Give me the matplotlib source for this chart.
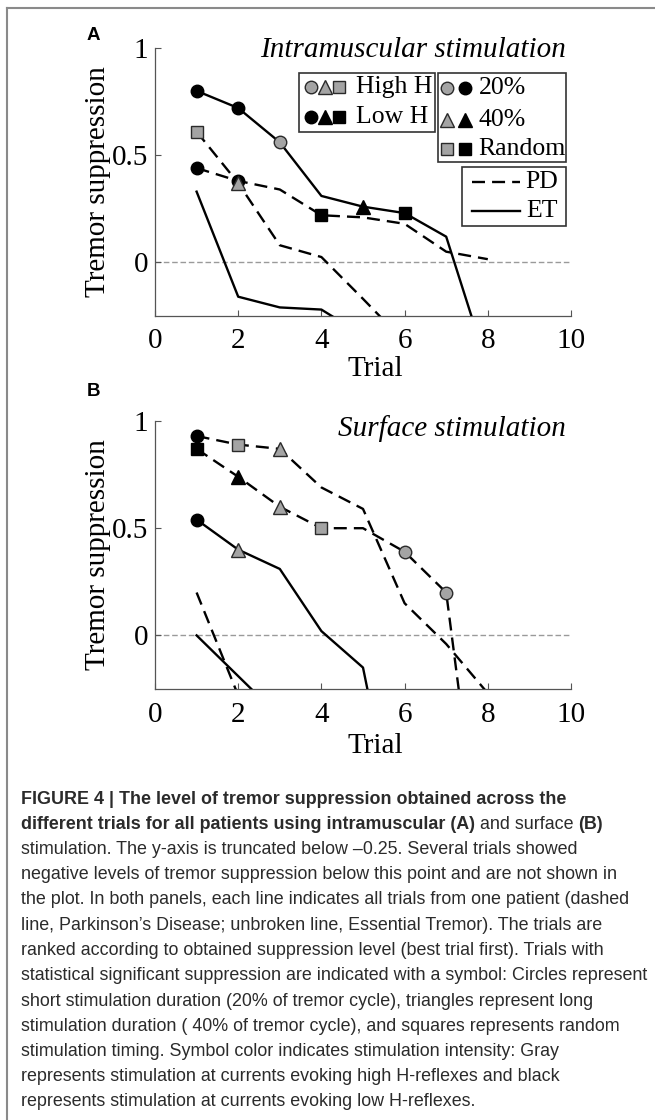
import matplotlib
matplotlib.use('Agg')
import matplotlib.pyplot as plt
from matplotlib.lines import Line2D
from matplotlib.patches import Rectangle
from matplotlib import font_manager

# ---- data ----
# symbol codes: K = black (low H), G = gray (high H); o circle, ^ triangle, s square
a_et1 = [0.80, 0.72, 0.56, 0.31, 0.26, 0.23, 0.12, -0.49]
a_et1_sym = ['Ko', 'Ko', 'Go', '', 'K^', 'Ks', '', '']
a_pd1 = [0.61, 0.37, 0.08, 0.025, -0.17, -0.37]
a_pd1_sym = ['Gs', 'G^', '', '', '', '']
a_pd2 = [0.44, 0.38, 0.34, 0.22, 0.21, 0.18, 0.05, 0.015]
a_pd2_sym = ['Ko', 'Ko', '', 'Ks', '', '', '', '']
a_et2 = [0.33, -0.16, -0.21, -0.22, -0.34]
a_et2_sym = ['', '', '', '', '']

b_pd1 = [0.93, 0.89, 0.87, 0.69, 0.59, 0.15, -0.04, -0.27]
b_pd1_sym = ['Ko', 'Gs', 'G^', '', '', '', '', '']
b_pd2 = [0.87, 0.74, 0.60, 0.50, 0.50, 0.39, 0.20, -1.3]
b_pd2_sym = ['Ks', 'K^', 'G^', 'Gs', '', 'Go', 'Go', '']
b_et1 = [0.54, 0.40, 0.31, 0.02, -0.15, -1.1]
b_et1_sym = ['Ko', 'G^', '', '', '', '']
b_pd3 = [0.20, -0.28]
b_pd3_sym = ['', '']
b_et2 = [0.00, -0.19, -0.38]
b_et2_sym = ['', '', '']

panel_a = [(a_pd2, a_pd2_sym, 'PD'), (a_pd1, a_pd1_sym, 'PD'),
           (a_et2, a_et2_sym, 'ET'), (a_et1, a_et1_sym, 'ET')]
panel_b = [(b_pd3, b_pd3_sym, 'PD'), (b_et2, b_et2_sym, 'ET'),
           (b_et1, b_et1_sym, 'ET'), (b_pd2, b_pd2_sym, 'PD'), (b_pd1, b_pd1_sym, 'PD')]

caption = [
    "stimulation. The y-axis is truncated below \u20130.25. Several trials showed",
    "negative levels of tremor suppression below this point and are not shown in",
    "the plot. In both panels, each line indicates all trials from one patient (dashed",
    "line, Parkinson\u2019s Disease; unbroken line, Essential Tremor). The trials are",
    "ranked according to obtained suppression level (best trial first). Trials with",
    "statistical significant suppression are indicated with a symbol: Circles represent",
    "short stimulation duration (20% of tremor cycle), triangles represent long",
    "stimulation duration ( 40% of tremor cycle), and squares represents random",
    "stimulation timing. Symbol color indicates stimulation intensity: Gray",
    "represents stimulation at currents evoking high H-reflexes and black",
    "represents stimulation at currents evoking low H-reflexes.",
]

GRAY = '#a4a4a4'
EDGE = '#2a2a2a'
SERIF = 'Liberation Serif'
DASH = (5.5, 3)

names = {f.name for f in font_manager.fontManager.ttflist}
cap_font = 'Liberation Sans Narrow' if 'Liberation Sans Narrow' in names else 'Liberation Sans'


def draw_marker(ax, x, y, code, ms=9):
    face = 'k' if code[0] == 'K' else GRAY
    edge = 'k' if code[0] == 'K' else EDGE
    m = code[1]
    size = ms + 1 if m == '^' else ms
    ax.plot(x, y, marker=m, ms=size, mfc=face, mec=edge, mew=1.0,
            ls='none', zorder=5, clip_on=False)


def draw_panel(ax, lines, title, title_y):
    ax.axhline(0, color='#9a9a9a', lw=1.0, ls=(0, (4, 2)), zorder=1)
    for vals, syms, kind in lines:
        trials = list(range(1, len(vals) + 1))
        if kind == 'PD':
            ax.plot(trials, vals, color='k', lw=1.7, dashes=DASH, zorder=3)
        else:
            ax.plot(trials, vals, color='k', lw=1.7, zorder=3)
        for t, v, s in zip(trials, vals, syms):
            if s and v >= -0.25:
                draw_marker(ax, t, v, s)
    ax.set_xlim(0, 10)
    ax.set_ylim(-0.25, 1)
    ax.set_xticks([0, 2, 4, 6, 8, 10])
    ax.set_yticks([0, 0.5, 1])
    ax.set_yticklabels(['0', '0.5', '1'])
    for side in ['top', 'right']:
        ax.spines[side].set_visible(False)
    for side in ['left', 'bottom']:
        ax.spines[side].set_color('#555555')
        ax.spines[side].set_linewidth(0.9)
    ax.tick_params(direction='in', length=4, width=0.8, color='#555555',
                   labelsize=21)
    ax.tick_params(axis='x', pad=9)
    ax.tick_params(axis='y', pad=5)
    for lab in ax.get_xticklabels() + ax.get_yticklabels():
        lab.set_fontfamily(SERIF)
    ax.set_xlabel('Trial', fontsize=21, fontfamily=SERIF)
    ax.set_ylabel('Tremor suppression', fontsize=21, fontfamily=SERIF)
    ax.yaxis.set_label_coords(-0.106, 0.5)
    ax.text(9.88, title_y, title, ha='right', va='center', fontsize=21,
            fontfamily=SERIF, style='italic')


fig = plt.figure(figsize=(6.55, 11.2), dpi=100)

ax_a = fig.add_axes([155 / 655, 1 - 316 / 1120, 416 / 655, 268 / 1120])
ax_b = fig.add_axes([155 / 655, 1 - 689 / 1120, 416 / 655, 268 / 1120])

draw_panel(ax_a, panel_a, 'Intramuscular stimulation', 0.99)
draw_panel(ax_b, panel_b, 'Surface stimulation', 0.967)
ax_a.xaxis.set_label_coords(0.53, -0.15)
ax_b.xaxis.set_label_coords(0.53, -0.165)

# ---- legends for panel A (boxes in data coords) ----
ax = ax_a
box_kw = dict(fill=True, fc='white', ec='#333333', lw=1.2, zorder=6, clip_on=False)
ax.add_patch(Rectangle((3.46, 0.608), 6.73 - 3.46, 0.885 - 0.608, **box_kw))
ax.add_patch(Rectangle((6.80, 0.467), 9.89 - 6.80, 0.885 - 0.467, **box_kw))
ax.add_patch(Rectangle((7.37, 0.171), 9.89 - 7.37, 0.447 - 0.171, **box_kw))

leg_fs = 18.5
for y, col, label in [(0.818, 'G', 'High H'), (0.678, 'K', 'Low H')]:
    for x, m in zip([3.74, 4.09, 4.42], ['o', '^', 's']):
        ax.plot(x, y, marker=m, ms=10 if m == '^' else 9,
                mfc='k' if col == 'K' else GRAY, mec='k' if col == 'K' else EDGE,
                mew=1.0, ls='none', zorder=7, clip_on=False)
    ax.text(4.83, y, label, ha='left', va='center', fontsize=leg_fs,
            fontfamily=SERIF, zorder=8)

for y, m, label in [(0.812, 'o', '20%'), (0.665, '^', '40%'), (0.531, 's', 'Random')]:
    ax.plot(7.02, y, marker=m, ms=10 if m == '^' else 9, mfc=GRAY, mec=EDGE,
            mew=1.0, ls='none', zorder=7, clip_on=False)
    ax.plot(7.44, y, marker=m, ms=10 if m == '^' else 9, mfc='k', mec='k',
            mew=1.0, ls='none', zorder=7, clip_on=False)
    ax.text(7.78, y, label, ha='left', va='center', fontsize=leg_fs,
            fontfamily=SERIF, zorder=8)

ax.plot([7.63, 8.77], [0.374, 0.374], color='k', lw=1.7, dashes=DASH,
        zorder=7, clip_on=False)
ax.plot([7.63, 8.77], [0.242, 0.242], color='k', lw=1.7, zorder=7, clip_on=False)
ax.text(9.68, 0.374, 'PD', ha='right', va='center', fontsize=leg_fs,
        fontfamily=SERIF, zorder=8)
ax.text(9.68, 0.242, 'ET', ha='right', va='center', fontsize=leg_fs,
        fontfamily=SERIF, zorder=8)

# ---- panel letters ----
fig.text(93 / 655, 1 - 35 / 1120, 'A', fontsize=13.5, fontweight='bold',
         fontfamily='Liberation Sans', ha='center', va='center')
fig.text(93 / 655, 1 - 392 / 1120, 'B', fontsize=13.5, fontweight='bold',
         fontfamily='Liberation Sans', ha='center', va='center')

# ---- frame (left and top only) ----
fig.add_artist(Line2D([7 / 655, 7 / 655], [0, 1 - 8 / 1120], color='#8a8a8a', lw=1.5))
fig.add_artist(Line2D([7 / 655, 1], [1 - 8 / 1120, 1 - 8 / 1120], color='#8a8a8a', lw=1.5))

# ---- caption ----
renderer = fig.canvas.get_renderer()
cap_x = 21 / 655
line_ys = [799 + i * 25.25 for i in range(13)]
cap_color = '#2b2b2b'

# fit font size so the longest line spans about 624 px
probe = fig.text(cap_x, 0.5, caption[5], fontsize=11, fontfamily=cap_font)
w = probe.get_window_extent(renderer).width
cap_fs = 11 * 624 / w
probe.remove()

fig.text(cap_x, 1 - line_ys[0] / 1120,
         'FIGURE 4 | The level of tremor suppression obtained across the',
         fontsize=cap_fs, fontfamily=cap_font, fontweight='bold',
         va='center', color=cap_color)

x = cap_x
for piece, wt in [('different trials for all patients using intramuscular (A)', 'bold'),
                  (' and surface ', 'normal'), ('(B)', 'bold')]:
    t = fig.text(x, 1 - line_ys[1] / 1120, piece, fontsize=cap_fs, fontfamily=cap_font,
                 fontweight=wt, va='center', color=cap_color)
    x = x + t.get_window_extent(renderer).width / fig.bbox.width

for i, line in enumerate(caption):
    fig.text(cap_x, 1 - line_ys[i + 2] / 1120, line, fontsize=cap_fs,
             fontfamily=cap_font, va='center', color=cap_color)

fig.savefig('out.png', dpi=100)
